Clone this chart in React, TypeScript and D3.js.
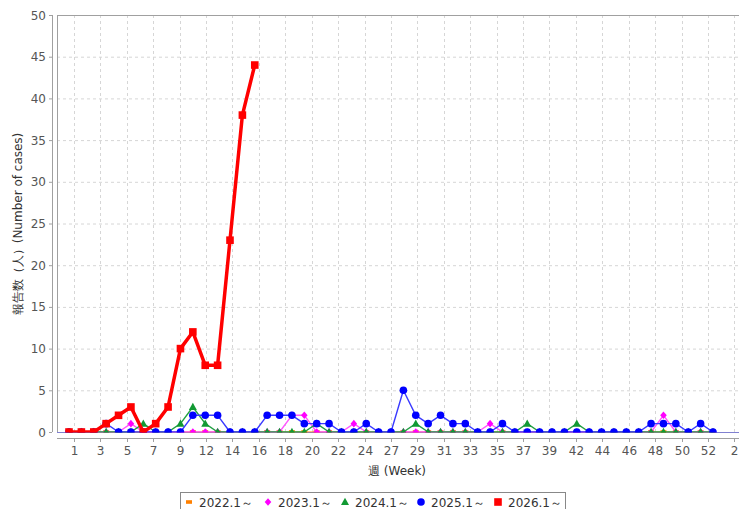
import React, { useEffect, useRef } from 'react'
import * as d3 from 'd3'

// weekly case counts, week 1 .. week 53
const s2022 = [0, 0, 0, 0, 0, 0, 0, 0, 0, 0, 0, 0, 0, 0, 0, 0, 0, 0, 0, 0, 0, 0, 0, 0, 0, 0, 0, 0, 0, 0, 0, 0, 0, 0, 0, 0, 0, 0, 0, 0, 0, 0, 0, 0, 0, 0, 0, 0, 0, 0, 0, 0, 0]
const s2023 = [0, 0, 0, 0, 0, 1, 0, 0, 0, 0, 0, 0, 0, 0, 0, 0, 0, 0, 2, 2, 0, 0, 0, 1, 0, 0, 0, 0, 0, 0, 0, 0, 0, 0, 1, 0, 0, 0, 0, 0, 0, 0, 0, 0, 0, 0, 0, 0, 2, 0, 0, 0, 0]
const s2024 = [0, 0, 0, 0, 0, 0, 1, 0, 0, 1, 3, 1, 0, 0, 0, 0, 0, 0, 0, 0, 1, 0, 0, 0, 0, 0, 0, 0, 1, 0, 0, 0, 0, 0, 0, 0, 0, 1, 0, 0, 0, 1, 0, 0, 0, 0, 0, 0, 0, 0, 0, 0, 0]
const s2025 = [0, 0, 0, 1, 0, 0, 0, 0, 0, 0, 2, 2, 2, 0, 0, 0, 2, 2, 2, 1, 1, 1, 0, 0, 1, 0, 0, 5, 2, 1, 2, 1, 1, 0, 0, 1, 0, 0, 0, 0, 0, 0, 0, 0, 0, 0, 0, 1, 1, 1, 0, 1, 0]
const s2026 = [0, 0, 0, 1, 2, 3, 0, 1, 3, 10, 12, 8, 8, 23, 38, 44]

const seriesNames = ['2022.1～', '2023.1～', '2024.1～', '2025.1～', '2026.1～']
const weekLabels = ['1', '3', '5', '7', '9', '12', '14', '16', '18', '20', '22', '24', '27', '29', '31', '33', '35', '37', '39', '42', '44', '46', '48', '50', '52', '2']
const yTicks = [0, 5, 10, 15, 20, 25, 30, 35, 40, 45, 50]

const W = 739
const H = 509
const plot = { left: 57, right: 745, top: 15, bottom: 432 }
const font = '"DejaVu Sans", sans-serif'

const styles = [
  { color: '#ff8000', line: '#ff8000', width: 1.2, shape: 'dash' },
  { color: '#ff00ff', line: '#ff55ff', width: 1.4, shape: 'diamond' },
  { color: '#119933', line: '#22a044', width: 1.4, shape: 'triangle' },
  { color: '#0000ff', line: '#3a3aff', width: 1.4, shape: 'circle' },
  { color: '#ff0000', line: '#ff0000', width: 3.5, shape: 'square' }
]

const drawMarker = (g, shape, x, y, color) => {
  if (shape === 'circle') {
    g.append('circle').attr('cx', x).attr('cy', y).attr('r', 3.8).attr('fill', color)
  } else if (shape === 'square') {
    g.append('rect').attr('x', x - 3.8).attr('y', y - 3.8).attr('width', 7.6).attr('height', 7.6).attr('fill', color)
  } else if (shape === 'diamond') {
    g.append('path').attr('d', `M${x},${y - 3.8}L${x + 3.3},${y}L${x},${y + 3.8}L${x - 3.3},${y}Z`).attr('fill', color)
  } else if (shape === 'triangle') {
    g.append('path').attr('d', `M${x},${y - 4.2}L${x + 4},${y + 3}L${x - 4},${y + 3}Z`).attr('fill', color)
  } else {
    g.append('rect').attr('x', x - 3).attr('y', y - 1.8).attr('width', 6).attr('height', 3.6).attr('fill', color)
  }
}

const App = () => {
  const ref = useRef(null)

  useEffect(() => {
    const svg = d3.select(ref.current)
    svg.selectAll('*').remove()

    const x = d3.scaleLinear().domain([1, 53]).range([69, 713])
    const xt = d3.scaleLinear().domain([0, weekLabels.length - 1]).range([74, 734.4])
    const y = d3.scaleLinear().domain([0, 50]).range([plot.bottom, plot.top])

    svg.append('rect').attr('width', W).attr('height', H).attr('fill', '#fff')

    svg.append('defs').append('clipPath').attr('id', 'data-area')
      .append('rect').attr('x', plot.left).attr('y', plot.top)
      .attr('width', plot.right - plot.left).attr('height', plot.bottom - plot.top + 0.5)

    // grid
    const grid = svg.append('g').attr('stroke', '#d6d6d6').attr('stroke-width', 1).attr('stroke-dasharray', '3 3')
    yTicks.slice(1, -1).forEach((t) => {
      grid.append('line').attr('x1', plot.left).attr('x2', plot.right).attr('y1', y(t) + 0.5).attr('y2', y(t) + 0.5)
    })
    weekLabels.forEach((_, i) => {
      grid.append('line').attr('x1', Math.round(xt(i)) + 0.5).attr('x2', Math.round(xt(i)) + 0.5).attr('y1', plot.top).attr('y2', plot.bottom)
    })

    // plot outline
    svg.append('line').attr('x1', plot.left).attr('x2', plot.right).attr('y1', plot.top + 0.5).attr('y2', plot.top + 0.5).attr('stroke', '#a0a0a0')
    svg.append('line').attr('x1', plot.left + 0.5).attr('x2', plot.left + 0.5).attr('y1', plot.top).attr('y2', plot.bottom).attr('stroke', '#a0a0a0')
    svg.append('line').attr('x1', plot.left).attr('x2', plot.right).attr('y1', plot.bottom + 0.5).attr('y2', plot.bottom + 0.5).attr('stroke', '#8080d0')

    // y axis
    const yAxis = svg.append('g')
    yAxis.append('line').attr('x1', 52.5).attr('x2', 52.5).attr('y1', plot.top).attr('y2', plot.bottom).attr('stroke', '#a0a0a0')
    yTicks.forEach((t) => {
      yAxis.append('line').attr('x1', 49).attr('x2', 52).attr('y1', y(t) + 0.5).attr('y2', y(t) + 0.5).attr('stroke', '#a0a0a0')
      yAxis.append('text').attr('x', 46).attr('y', y(t) + 4.5).attr('text-anchor', 'end')
        .attr('font-family', font).attr('font-size', 12).attr('fill', '#555').text(t)
    })
    svg.append('text').attr('transform', `translate(22, 224) rotate(-90)`).attr('text-anchor', 'middle')
      .attr('font-family', font).attr('font-size', 12).attr('fill', '#333').text('報告数（人）(Number of cases)')

    // x axis
    const xAxis = svg.append('g')
    xAxis.append('line').attr('x1', plot.left).attr('x2', plot.right).attr('y1', 438.5).attr('y2', 438.5).attr('stroke', '#a0a0a0')
    weekLabels.forEach((l, i) => {
      const px = Math.round(xt(i)) + 0.5
      xAxis.append('line').attr('x1', px).attr('x2', px).attr('y1', 438).attr('y2', 442).attr('stroke', '#a0a0a0')
      xAxis.append('text').attr('x', px).attr('y', 455).attr('text-anchor', 'middle')
        .attr('font-family', font).attr('font-size', 12).attr('fill', '#555').text(l)
    })
    svg.append('text').attr('x', 397).attr('y', 475).attr('text-anchor', 'middle')
      .attr('font-family', font).attr('font-size', 12).attr('fill', '#333').text('週 (Week)')

    // series, clipped to the data area like the original
    const all = [s2022, s2023, s2024, s2025, s2026]
    const line = d3.line().x((d) => x(d[0])).y((d) => y(d[1]))
    const data = svg.append('g').attr('clip-path', 'url(#data-area)')
    all.forEach((vals, si) => {
      const st = styles[si]
      const pts = vals.map((v, i) => [i + 1, v])
      const g = data.append('g')
      g.append('path').attr('d', line(pts)).attr('fill', 'none').attr('stroke', st.line)
        .attr('stroke-width', st.width).attr('stroke-linejoin', 'round')
      pts.forEach((p) => drawMarker(g, st.shape, x(p[0]), y(p[1]), st.color))
    })

    // legend
    const lg = svg.append('g')
    lg.append('rect').attr('x', 180.5).attr('y', 492.5).attr('width', 385).attr('height', 30).attr('fill', '#fff').attr('stroke', '#888')
    const legendX = [189, 268, 345, 421, 498]
    seriesNames.forEach((n, i) => {
      drawMarker(lg, styles[i].shape, legendX[i], 502, styles[i].color)
      lg.append('text').attr('x', legendX[i] + 10).attr('y', 506.5).attr('font-family', font).attr('font-size', 12).attr('fill', '#333').text(n)
    })
  }, [])

  return (
    <svg ref={ref} width={W} height={H} style={{ position: 'absolute', left: 0, top: 0, display: 'block' }} />
  )
}

export default App
